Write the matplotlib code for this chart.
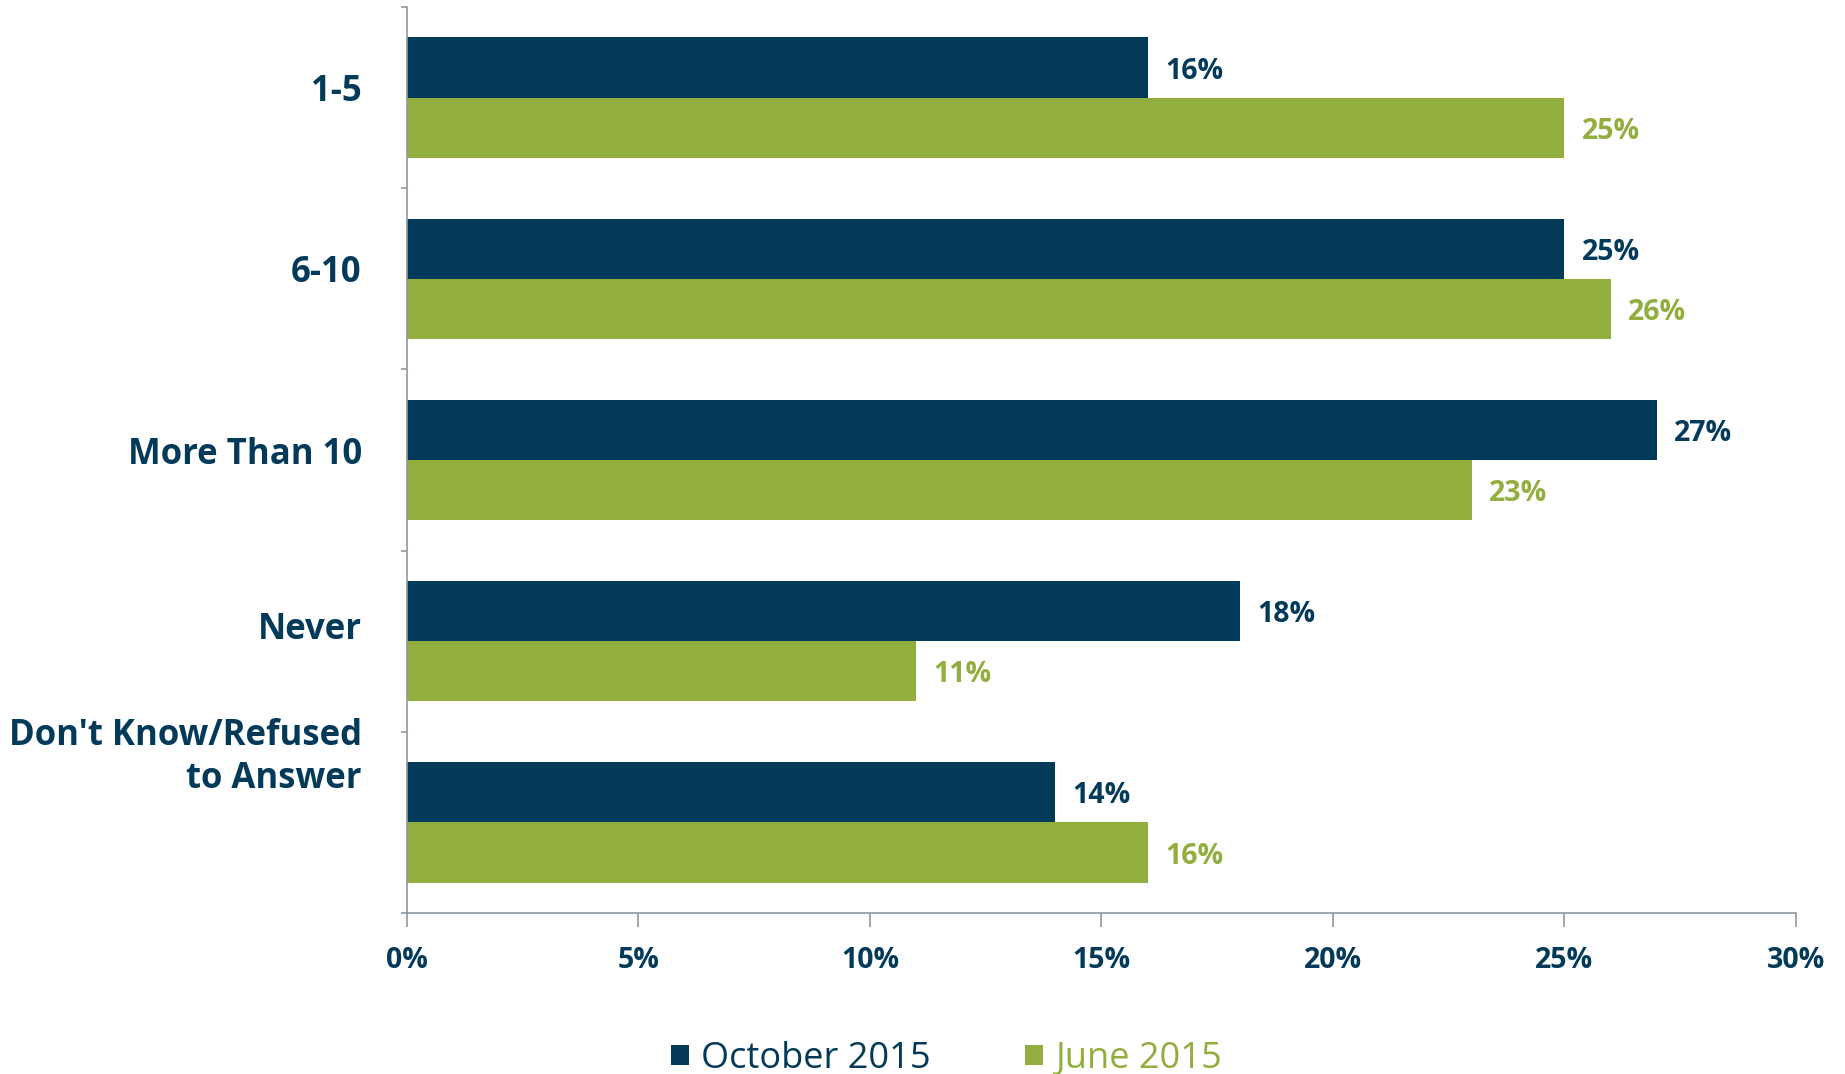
import matplotlib.pyplot as plt
import numpy as np

# data
categories = ['1-5', '6-10', 'More Than 10', 'Never', "Don't Know/Refused\nto Answer"]
october_2015 = [16, 25, 27, 18, 14]
june_2015 = [25, 26, 23, 11, 16]
series_names = ['October 2015', 'June 2015']
xticks = [0, 5, 10, 15, 20, 25, 30]

navy = '#033A5A'
green = '#91AE3F'
axis_grey = '#8E98A2'

plt.rcParams['font.family'] = ['Open Sans', 'DejaVu Sans']

fig = plt.figure(figsize=(18.45, 10.74), dpi=100)
ax = fig.add_axes([0.2206, 0.1499, 0.7528, 0.8436])

y = np.arange(len(categories))
h = 0.332
ax.barh(y - h / 2, october_2015, height=h, color=navy, label=series_names[0])
ax.barh(y + h / 2, june_2015, height=h, color=green, label=series_names[1])

# value labels
for i in range(len(categories)):
    ax.text(october_2015[i] + 0.37, y[i] - h / 2 + 0.02, f'{october_2015[i]}%', va='center', ha='left',
            fontsize=20.5, fontweight='bold', color=navy)
    ax.text(june_2015[i] + 0.37, y[i] + h / 2 + 0.02, f'{june_2015[i]}%', va='center', ha='left',
            fontsize=20.5, fontweight='bold', color=green)

ax.set_xlim(0, 30)
ax.set_ylim(len(categories) - 0.5, -0.5)
ax.set_xticks(xticks)
ax.set_xticklabels([f'{t}%' for t in xticks], fontsize=20.5, fontweight='bold', color=navy)
ax.tick_params(axis='x', length=10, width=1.2, color=axis_grey, pad=14)

# category boundaries as y ticks, labels drawn as text
ax.set_yticks(np.arange(len(categories) + 1) - 0.5)
ax.set_yticklabels([])
ax.tick_params(axis='y', length=4, width=1.2, color=axis_grey)
label_y = [-0.03, -0.03, -0.03, -0.06, -0.36]
for i, cat in enumerate(categories):
    ax.text(-0.0325, y[i] + label_y[i], cat, transform=ax.get_yaxis_transform(),
            ha='right', va='center', fontsize=25, fontweight='bold', color=navy,
            multialignment='right', linespacing=1.25)

for s in ['top', 'right']:
    ax.spines[s].set_visible(False)
for s in ['left', 'bottom']:
    ax.spines[s].set_color(axis_grey)
    ax.spines[s].set_linewidth(1.2)

leg = fig.legend(loc='center', bbox_to_anchor=(0.513, 0.014), ncol=2, frameon=False,
                 fontsize=26, handlelength=0.5, handleheight=0.5, handletextpad=0.35,
                 columnspacing=2.6)
for txt, c in zip(leg.get_texts(), [navy, green]):
    txt.set_color(c)

fig.savefig('out.png', dpi=100)
